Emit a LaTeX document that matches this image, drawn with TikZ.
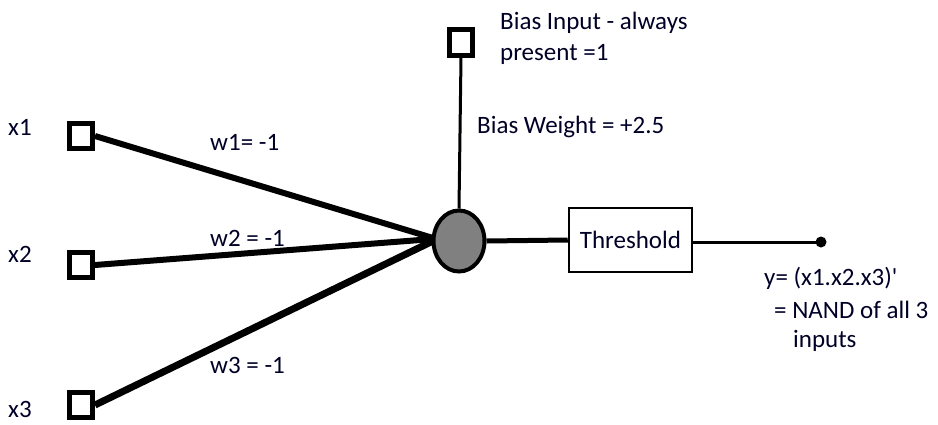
\documentclass[tikz,border=0pt]{standalone}
\usepackage{fontspec}
\setmainfont{Carlito}
\newfontfamily\rawcarlito{Carlito}
\usetikzlibrary{shapes.geometric}
\begin{document}
\begin{tikzpicture}[x=1pt,y=-1pt,
  txt/.style={font=\fontsize{25}{29}\selectfont, text=black!85!blue, inner sep=0pt},
  insq/.style={draw, line width=5pt, minimum width=23pt, minimum height=25pt, inner sep=0pt, fill=white},
  inline/.style={line width=6pt},
  ]
\useasboundingbox (0,0) rectangle (938,424);
% nodes
\node[insq] (s1) at (81,136) {};
\node[insq] (s2) at (81,265) {};
\node[insq] (s3) at (81,405) {};
\node[insq, minimum height=26pt] (sb) at (461,42) {};
\node[ellipse, draw, line width=4pt, fill=black!50, minimum width=51pt, minimum height=61pt, inner sep=0pt] (n) at (459,241) {};
\node[draw, line width=2.5pt, minimum width=123pt, minimum height=64pt, inner sep=0pt] (th) at (630.5,240) {};
\node[txt] at (th.center) {Threshold};
\coordinate (out) at (821,242);
% connectors
\draw[inline] (s1.east) -- (433,238);
\draw[inline] (s2.east) -- (433,239);
\draw[line width=7pt] (s3.east) -- (433,241);
\draw[line width=3pt] (sb.south) -- (n.north);
\draw[line width=5pt] (n.east) -- (th.west);
\draw[line width=3pt] (th.east |- out) -- (out);
\fill (out) circle (5.5pt);
% labels
\node[txt, anchor=base west] (lx1) at (8,135) {x1};
\node[txt, anchor=base west] (lx2) at (8,262) {x2};
\node[txt, anchor=base west] (lx3) at (8,417) {x3};
\node[txt, anchor=base west] (lw1) at (210,150) {w1= -1};
\node[txt, anchor=base west] (lw2) at (210,246) {w2 = -1};
\node[txt, anchor=base west] (lw3) at (210,373) {w3 = -1};
\node[txt, anchor=base west] (lb1) at (500,29) {Bias Input - always};
\node[txt, anchor=base west] (lb2) at (500,60) {present =1};
\node[txt, anchor=base west] (lbw) at (477,133) {Bias Weight = +2.5};
\node[txt, anchor=base west] (ly1) at (764,285) {\rawcarlito y= (x1.x2.x3)'};
\node[txt, anchor=base west] (ly2) at (774,318) {= NAND of all 3};
\node[txt, anchor=base west] (ly3) at (793,347) {inputs};
\end{tikzpicture}
\end{document}
